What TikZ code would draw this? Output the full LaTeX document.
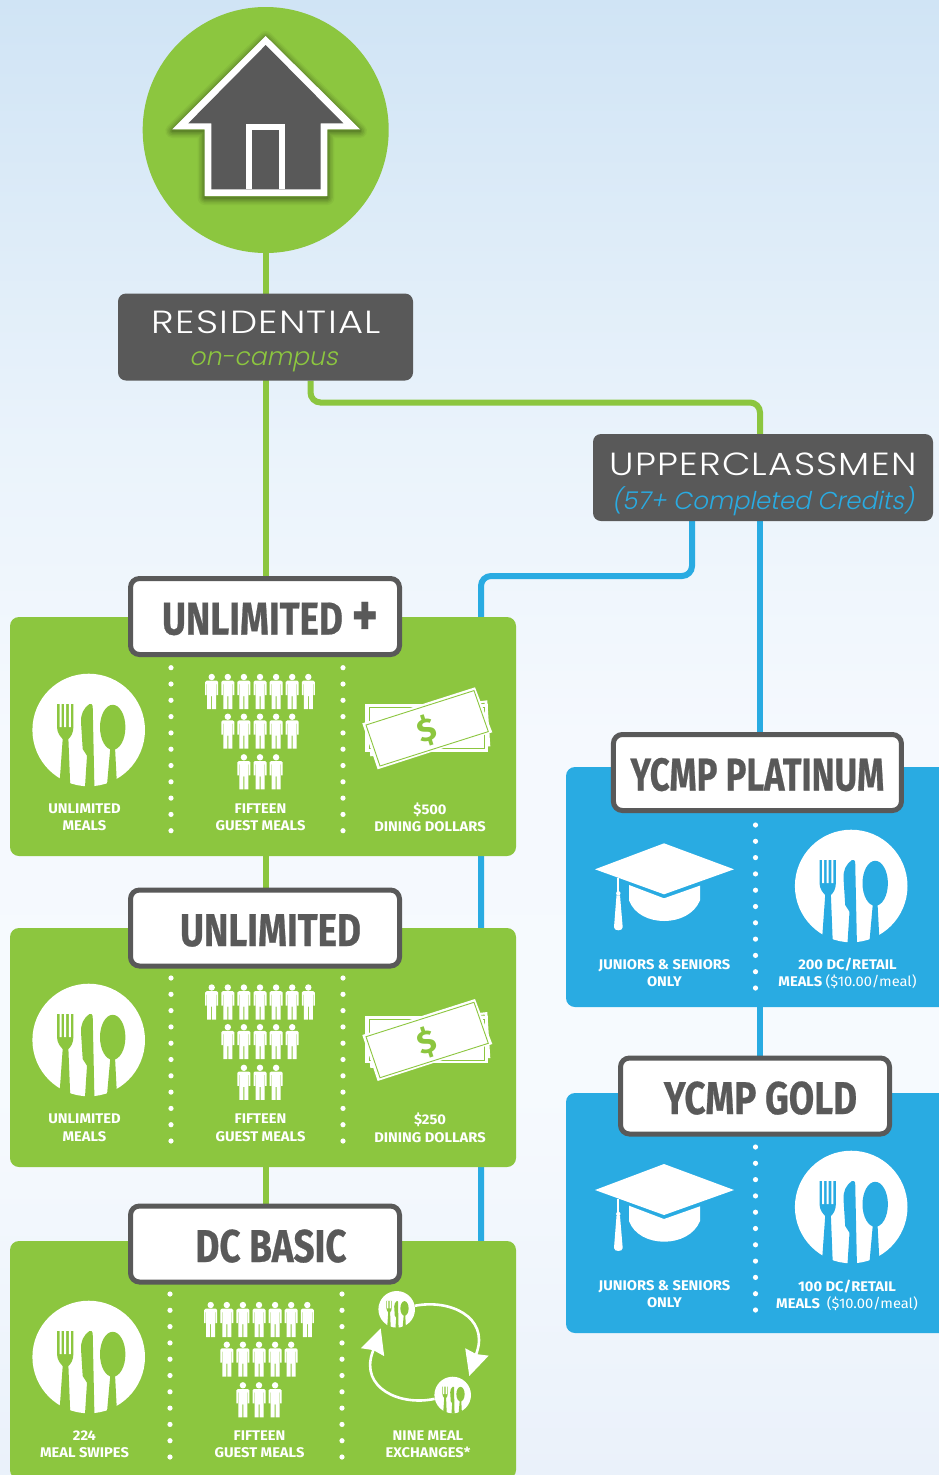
\documentclass[tikz,border=0pt]{standalone}
\usepackage{fontspec}
\usepackage{xcolor}
\usepackage{graphicx}
\usetikzlibrary{arrows.meta}
\newfontfamily\titlefont[UprightFont=* Light,FakeStretch=1.18,LetterSpace=4]{Poppins}
\newfontfamily\slantfont[UprightFont=* Light,FakeSlant=0.2]{Poppins}
\newfontfamily\headfont[FakeStretch=0.8,BoldFeatures={FakeBold=0.5}]{Fira Sans}
\newfontfamily\capfont[FakeStretch=1.05]{Fira Sans}
\definecolor{leaf}{HTML}{8CC63F}
\definecolor{sea}{HTML}{29ABE2}
\definecolor{slate}{HTML}{595959}
\definecolor{skytop}{HTML}{D0E4F5}
\definecolor{skyhigh}{HTML}{EAF3FB}
\definecolor{skymid}{HTML}{F5F9FE}
\definecolor{skylow}{HTML}{F6FAFE}
\definecolor{skyend}{HTML}{EAF1FA}
\pgfdeclarelayer{under}
\pgfsetlayers{under,main}
\pgfdeclareverticalshading{skyfade}{100bp}{color(0bp)=(skyend);color(25bp)=(skyend);color(38bp)=(skylow);color(50bp)=(skymid);color(60bp)=(skyhigh);color(75bp)=(skytop);color(100bp)=(skytop)}
\tikzset{
	darkbox/.style={fill=slate,rounded corners=8pt,inner sep=0pt,outer sep=0pt,align=center,text=white,font=\titlefont\fontsize{32}{32}\selectfont},
	bluecard/.style={fill=sea,rounded corners=9pt,inner sep=0pt,outer sep=0pt},
	greencard/.style={fill=leaf,rounded corners=9pt,inner sep=0pt,outer sep=0pt,minimum width=506pt,minimum height=239pt},
	planlabel/.style={draw=slate,line width=5pt,fill=white,rounded corners=9pt,minimum width=269pt,minimum height=76pt,inner sep=0pt,outer sep=0pt,text=slate,text height=36pt,text depth=0pt,font=\headfont\bfseries\fontsize{46}{46}\selectfont},
	plancap/.style={text=white,align=center,inner sep=0pt,yshift=-0.8pt,font=\capfont\bfseries\fontsize{14}{17.4}\selectfont},
	dotrule/.style={white,line width=5.2pt,line cap=round,dash pattern=on 0pt off 16.3pt},
	greenline/.style={leaf,line width=6pt,rounded corners=10pt},
	blueline/.style={sea,line width=6pt,rounded corners=10pt},
	swapline/.style={white,line width=2.6pt,looseness=1.2,-{Stealth[inset=2pt,length=25pt,width=24pt]}},
	plate/.pic={
		\fill[white] (0,0) circle (56.3);
		\fill[#1] (-31.7,-26) -- (-31.7,-3) .. controls (-31.7,3) and (-28,7) .. (-26,9) -- (-28.9,50) -- (-18.5,55) -- (-20.3,9) .. controls (-18,7) and (-15.3,3) .. (-15.3,-3) -- (-15.3,-26) -- cycle;
		\fill[white] (-29.1,-27) rectangle (-27.1,-3) (-24.5,-27) rectangle (-22.5,-3) (-19.9,-27) rectangle (-17.9,-3);
		\fill[#1] (0.7,-26) .. controls (-5,-22) and (-8,-16) .. (-7.7,-8) -- (-6,19) -- (-1.7,25.7) -- (-3.7,57) -- (5.7,57) -- (4,-24) .. controls (4,-25.5) and (2,-27) .. (0.7,-26) -- cycle;
		\fill[#1] (24,-2.7) ellipse [x radius=12.7,y radius=22.5];
		\fill[#1] (21.7,17) -- (18.3,55) -- (28,50) -- (26.3,17) -- cycle;
	},
	guest/.pic={
		\fill[white] (0,0) circle (3.2);
		\fill[white] (-6.5,5) -- (-5,3.7) -- (5,3.7) -- (6.5,5) -- (6.5,18) -- (5,18) -- (5,7) -- (4.5,7) -- (4.5,32) -- (0.5,32) -- (0.5,19) -- (-0.5,19) -- (-0.5,32) -- (-4.5,32) -- (-4.5,7) -- (-5,7) -- (-5,18) -- (-6.5,18) -- cycle;
	},
	crowd/.pic={
		\foreach \gx in {-48.3,-32.2,-16.1,0,16.1,32.2,48.3} \path (\gx,0) pic {guest};
		\foreach \gx in {-32.2,-16.1,0,16.1,32.2} \path (\gx,39.7) pic {guest};
		\foreach \gx in {-16.1,0,16.1} \path (\gx,80.3) pic {guest};
	},
	bills/.pic={
		\fill[white] (-60,-14) -- (60,-28) -- (63,18) -- (-57,28) -- cycle;
		\draw[leaf,line width=0.8pt] (-56,-12) -- (57,-25) -- (59,16) -- (-54,25) -- cycle;
		\fill[white] (-62.3,-24.3) rectangle (61,23.3);
		\draw[leaf,line width=0.8pt] (-58,-20.5) rectangle (57,20);
		\fill[white] (47.7,-41) -- (65,4) -- (-49.7,41) -- (-65,-5) -- cycle;
		\draw[leaf,line width=0.9pt] (46.7,-37.7) -- (61,3.3) -- (-47.3,37.7) -- (-61.3,-3.3) -- cycle;
		\node[leaf,rotate=18,inner sep=0pt,font=\capfont\bfseries\fontsize{32}{32}\selectfont] at (-0.5,2) {\$};
	},
	gradcap/.pic={
		\fill[white] (0,-26) -- (70,0) -- (0,25) -- (-69,0) -- cycle;
		\fill[white] (-35,15.7) -- (0,29) -- (36,16.3) -- (36,31) .. controls (25,58.6) and (-25,58.6) .. (-35,31) -- cycle;
		\fill[white] (-46.7,9) rectangle (-44.7,23);
		\fill[white] (-45.7,24) circle (2.2);
		\fill[white] (-47.5,26) -- (-44,26) -- (-41.3,58) .. controls (-41.3,62) and (-50,62) .. (-50,58) -- cycle;
	}
}

\begin{document}
\begin{tikzpicture}[x=1pt,y=-1pt]
	\path[use as bounding box,clip] (0,0) rectangle (939,1475);
	
	%% Top of the tree
	\node[circle,fill=leaf,minimum size=246pt,inner sep=0pt,outer sep=0pt] (home) at (265.7,130) {};
	\begin{scope}
		\foreach \hw/\hop in {14/.06,11/.08,8/.1,5/.14,2/.18} \draw[black!70!leaf,line width=\hw pt,opacity=\hop,line join=round] (172.3,131) -- (265.7,38) -- (360,131) -- (327.3,131) -- (327.3,198) -- (204.7,198) -- (204.7,131) -- cycle;
		\fill[white] (265.7,36) -- (360,129.3) -- (327.3,129.3) -- (327.3,196) -- (204.7,196) -- (204.7,129.3) -- (172.3,129.3) -- cycle;
		\fill[slate] (265.7,45) -- (343.3,123.3) -- (320.7,123.3) -- (320.7,189.3) -- (211.3,189.3) -- (211.3,123.3) -- (188.3,123.3) -- cycle;
		\fill[white] (246,124) rectangle (285,189.3);
		\fill[slate] (252,130.3) rectangle (279,189.3);
	\end{scope}
	
	\node[darkbox,minimum width=295pt,minimum height=87pt] (residential) at (265.5,337) {\rule{0pt}{32pt}\hspace*{2pt}\scalebox{1.02}[1]{RESIDENTIAL}\\\hspace*{-4pt}{\slantfont\fontsize{25}{30}\selectfont\color{leaf}on-campus}};
	\node[darkbox,minimum width=340pt,minimum height=87pt] (upper) at (763,477.5) {\rule{0pt}{37pt}\scalebox{.98}[1]{UPPERCLASSMEN}\\[2pt]{\slantfont\fontsize{24.5}{30}\selectfont\color{sea}(57+ Completed Credits)}};
	
	%% Green cards
	\node[greencard] (plusc) at (263,736.5) {};
	\node[greencard] (unlc) at (263,1047.5) {};
	\node[greencard,minimum height=238pt] (basicc) at (263,1360) {};
	
	%% Blue cards
	\node[bluecard,minimum width=400pt,minimum height=240pt,anchor=west] (platc) at (566,887) {};
	\node[bluecard,minimum width=400pt,minimum height=240pt,anchor=west] (goldc) at (566,1213) {};
	
	%% Labels
	\node[planlabel] (plus) at (265,616.5) {\hspace*{10pt}UNLIMITED \raisebox{-1.5pt}{\scalebox{1.35}{+}}};
	\node[planlabel] (unl) at (265,928) {\hspace*{11pt}UNLIMITED};
	\node[planlabel] (basic) at (265,1244) {\hspace*{12pt}DC BASIC};
	\node[planlabel,minimum width=288pt] (plat) at (757.4,772.5) {\scalebox{.94}[1]{YCMP PLATINUM}};
	\node[planlabel] (gold) at (755,1096) {\hspace*{11pt}YCMP GOLD};
	
	%% Connectors
	\begin{pgfonlayer}{under}
		\fill[shading=skyfade] (0,0) rectangle (939,1475);
		\draw[greenline] (home.south) -- (basic.north -| home.south);
		\draw[greenline] ([xshift=45pt]residential.south) -- ++(0,22) -| ([xshift=-3pt]upper.north);
		\draw[blueline] ([xshift=-71pt]upper.south) -- ++(0,55) -| ([xshift=218pt]basicc.north);
		\draw[blueline] ([xshift=-3pt]upper.south) -- ([xshift=-3pt]upper.south |- gold.north);
	\end{pgfonlayer}
	
	%% Dotted rules
	\draw[dotrule] (171,667.7) -- ++(0,164);
	\draw[dotrule] (343,667.7) -- ++(0,164);
	\draw[dotrule] (171,978) -- ++(0,164);
	\draw[dotrule] (343,978) -- ++(0,164);
	\draw[dotrule] (170,1294) -- ++(0,164);
	\draw[dotrule] (342,1294) -- ++(0,164);
	\draw[dotrule] (755.5,825) -- ++(0,164);
	\draw[dotrule] (755.5,1147) -- ++(0,164);
	
	%% Icons
	\path (88.7,730) pic {plate=leaf};
	\path (88.7,1040) pic {plate=leaf};
	\path (88.7,1357) pic {plate=leaf};
	\path (851.2,886) pic {plate=sea};
	\path (851.2,1207) pic {plate=sea};
	\path (260,677) pic {crowd};
	\path (260,987.5) pic {crowd};
	\path (259,1305) pic {crowd};
	\path (427.3,728.3) pic {bills};
	\path (427.3,1040) pic {bills};
	\path (664,869.3) pic {gradcap};
	\path (664,1190) pic {gradcap};
	
	%% Meal exchange loop
	\node[circle,minimum size=36.6pt,inner sep=0pt] (swapa) at (396.7,1309.3) {};
	\node[circle,minimum size=36.6pt,inner sep=0pt] (swapb) at (452.7,1395) {};
	\coordinate (basea) at (477,1351.7);
	\coordinate (baseb) at (372.3,1353);
	\coordinate (tipa) at (469.3,1376);
	\coordinate (tipb) at (380.7,1328.3);
	\path (swapa) pic[scale=.325] {plate=leaf};
	\path (swapb) pic[scale=.325] {plate=leaf};
	\draw[swapline] (swapa) to[out=11,in=72] (basea) -- (tipa);
	\draw[swapline] (swapb) to[out=192,in=251] (baseb) -- (tipb);
	
	%% Captions
	\node[plancap] (cap1) at (84.5,816.5) {UNLIMITED\\MEALS};
	\node[plancap] (cap2) at (260.5,816.5) {FIFTEEN\\GUEST MEALS};
	\node[plancap] (cap3) at (430,816.5) {\$500\\DINING DOLLARS};
	\node[plancap] (cap4) at (84.5,1127) {UNLIMITED\\MEALS};
	\node[plancap] (cap5) at (260.5,1127) {FIFTEEN\\GUEST MEALS};
	\node[plancap] (cap6) at (430,1127) {\$250\\DINING DOLLARS};
	\node[plancap] (cap7) at (84.5,1443.5) {224\\MEAL SWIPES};
	\node[plancap] (cap8) at (259.5,1443.5) {FIFTEEN\\GUEST MEALS};
	\node[plancap] (cap9) at (428,1443.5) {NINE MEAL\\EXCHANGES*};
	\node[plancap] (cap10) at (664.5,972.5) {JUNIORS \& SENIORS\\ONLY};
	\node[plancap] (cap11) at (847.5,972.5) {200 DC/RETAIL\\MEALS {\mdseries(\$10.00/meal)}};
	\node[plancap] (cap12) at (664.5,1293.5) {JUNIORS \& SENIORS\\ONLY};
	\node[plancap] (cap13) at (847,1294.5) {100 DC/RETAIL\\MEALS\ \ {\mdseries(\$10.00/meal)}};
\end{tikzpicture}
\end{document}
